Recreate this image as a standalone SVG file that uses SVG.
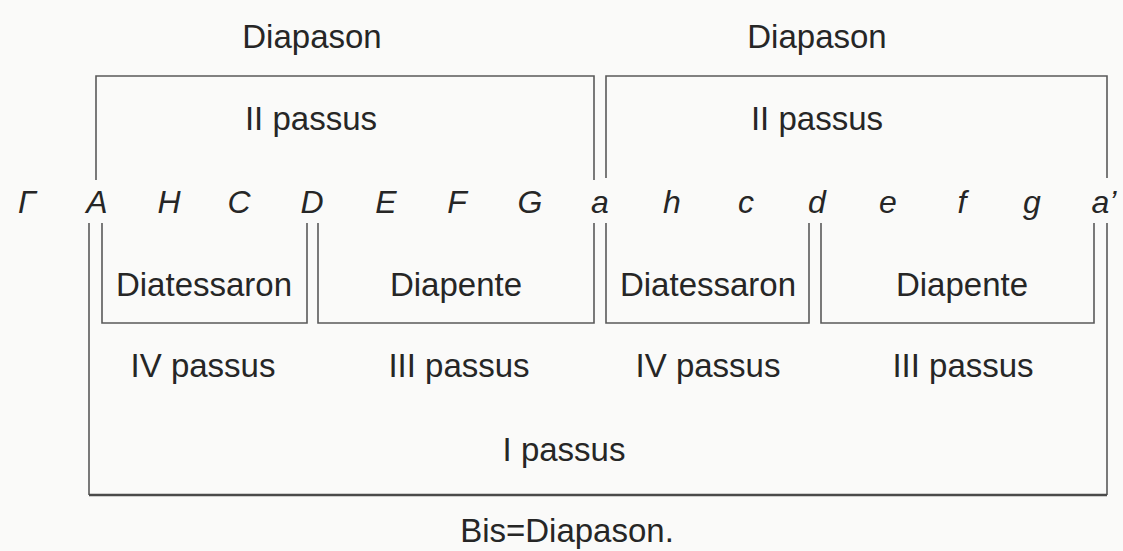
<svg xmlns="http://www.w3.org/2000/svg" width="1123" height="551" viewBox="0 0 1123 551">
<style>
.bg{fill:#fafaf9}
.br{fill:none;stroke:#5a5a5a;stroke-width:1.6}
.lbl{font-family:"Liberation Sans",Arial,sans-serif;font-size:33px;fill:#262626;text-anchor:middle}
.note{font-family:"Liberation Sans",Arial,sans-serif;font-size:32px;font-style:italic;fill:#262626;text-anchor:middle}
</style>
<rect class="bg" x="0" y="0" width="1123" height="551"/>
<g id="diapason-left">
<text class="lbl" x="312" y="48">Diapason</text>
<path class="br" d="M96,180 V76 H594 V180"/>
<text class="lbl" x="311" y="130">II passus</text>
</g>
<g id="diapason-right">
<text class="lbl" x="817" y="48">Diapason</text>
<path class="br" d="M606,178 V76 H1107 V178"/>
<text class="lbl" x="817" y="130">II passus</text>
</g>
<g id="notes">
<text class="note" x="27" y="213">Γ</text>
<text class="note" x="97" y="213">A</text>
<text class="note" x="169" y="213">H</text>
<text class="note" x="239" y="213">C</text>
<text class="note" x="312" y="213">D</text>
<text class="note" x="386" y="213">E</text>
<text class="note" x="457" y="213">F</text>
<text class="note" x="530" y="213">G</text>
<text class="note" x="600" y="213">a</text>
<text class="note" x="672" y="213">h</text>
<text class="note" x="746" y="213">c</text>
<text class="note" x="817" y="213">d</text>
<text class="note" x="888" y="213">e</text>
<text class="note" x="962" y="213">f</text>
<text class="note" x="1032" y="213">g</text>
<text class="note" x="1104" y="213">a’</text>
</g>
<g id="diatessaron-left">
<path class="br" d="M102,223 V323 H307 V223"/>
<text class="lbl" x="204" y="296">Diatessaron</text>
</g>
<g id="diapente-left">
<path class="br" d="M318,223 V323 H594 V223"/>
<text class="lbl" x="456" y="296">Diapente</text>
</g>
<g id="diatessaron-right">
<path class="br" d="M606,223 V323 H809 V223"/>
<text class="lbl" x="708" y="296">Diatessaron</text>
</g>
<g id="diapente-right">
<path class="br" d="M821,223 V323 H1094 V223"/>
<text class="lbl" x="962" y="296">Diapente</text>
</g>
<g id="passus-labels">
<text class="lbl" x="203" y="377">IV passus</text>
<text class="lbl" x="459" y="377">III passus</text>
<text class="lbl" x="708" y="377">IV passus</text>
<text class="lbl" x="963" y="377">III passus</text>
</g>
<g id="bis-diapason">
<path class="br" d="M89,223 V495 M1107,223 V495"/>
<path d="M89,495 H1107" stroke="#4a4a4a" stroke-width="2.6" fill="none"/>
<text class="lbl" x="564" y="461">I passus</text>
</g>
<g id="connectors"></g>
<text class="lbl" x="567" y="542">Bis=Diapason.</text>
</svg>
